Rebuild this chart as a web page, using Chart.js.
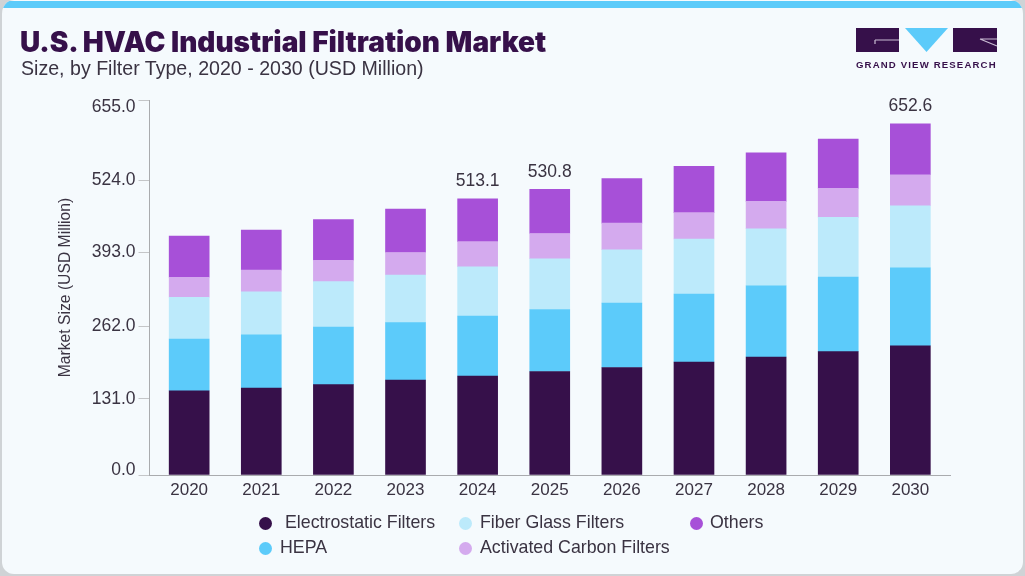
<!DOCTYPE html>
<html>
<head>
<meta charset="utf-8">
<title>U.S. HVAC Industrial Filtration Market</title>
<script src="https://cdn.jsdelivr.net/npm/chart.js@4"></script>
<style>
  html, body { margin: 0; padding: 0; background: #cfd3d6; }
  #card {
    position: relative; width: 1025px; height: 576px; box-sizing: border-box; overflow: hidden;
    background: #f5fafd; border: 2px solid #cfd3d6; border-top: 0; border-radius: 14px;
    font-family: "Liberation Sans", sans-serif; color: #3a3342;
  }
  #topband { position: absolute; left: -2px; right: -2px; top: 1px; height: 7px; background: #5ccbfa; }
  #title { position: absolute; left: 18px; top: 25px; font: 900 28px Inter, sans-serif; color: #36104a; white-space: nowrap; }
  #subtitle { position: absolute; left: 19px; top: 57px; font-size: 19.6px; white-space: nowrap; }
  #logo { position: absolute; left: 854px; top: 26px; }
  #chart { position: absolute; left: -2px; top: 0; }
  .legend-item { position: absolute; font-size: 17.8px; line-height: 20px; white-space: nowrap; }
  .legend-dot { position: absolute; width: 13px; height: 13px; border-radius: 50%; }
</style>
</head>
<body>
<div id="card">
  <div id="topband"></div>
  <canvas id="chart" width="1025" height="576"></canvas>
  <div id="title">U.S. HVAC Industrial Filtration Market</div>
  <div id="subtitle">Size, by Filter Type, 2020 - 2030 (USD Million)</div>
  <svg id="logo" width="146" height="46" viewBox="0 0 146 46">
    <rect x="0" y="2" width="43" height="24" fill="#36104a"/>
    <path d="M19 14 H43 M19 14 V18" stroke="#c9bcd3" stroke-width="1.2" fill="none"/>
    <polygon points="49,2 92,2 70.5,26" fill="#5ccbfa"/>
    <rect x="97" y="2" width="44" height="24" fill="#36104a"/>
    <path d="M124 13 L141 20 M124 13 H141" stroke="#c9bcd3" stroke-width="1.2" fill="none"/>
    <text x="0" y="42" font-family="Liberation Sans" font-weight="700" font-size="9.6" letter-spacing="1.15" fill="#36104a">GRAND VIEW RESEARCH</text>
  </svg>
</div>
<script>
// データ
const years = [2020, 2021, 2022, 2023, 2024, 2025, 2026, 2027, 2028, 2029, 2030];
const electrostatic = [156.6, 161.6, 167.8, 176.5, 183.9, 192.3, 199.7, 210.0, 219.2, 229.1, 240.2];
const hepa = [96.1, 99.0, 107.2, 106.5, 111.5, 115.2, 119.8, 126.3, 132.5, 138.8, 144.9];
const fiberGlass = [77.5, 79.9, 84.2, 88.6, 91.6, 94.4, 99.0, 102.2, 105.9, 110.9, 115.2];
const activatedCarbon = [37.2, 40.3, 39.8, 41.8, 46.5, 46.8, 49.6, 48.9, 50.9, 53.9, 57.6];
const others = [76.7, 74.3, 75.4, 80.8, 79.6, 82.1, 82.7, 86.2, 90.3, 91.6, 94.7];
const totalLabels = [null, null, null, null, '513.1', '530.8', null, null, null, null, '652.6'];

// 元の図の目盛りはバーの実スケールと一致していないので、位置とラベルを別々に持つ
const yTickLabels = ['0.0', '131.0', '262.0', '393.0', '524.0', '655.0'];
const yTickPositions = [0, 141.8, 276.8, 413.2, 548.1, 696.8];

const seriesNames = ['Electrostatic Filters', 'HEPA', 'Fiber Glass Filters', 'Activated Carbon Filters', 'Others'];
const seriesValues = [electrostatic, hepa, fiberGlass, activatedCarbon, others];
const seriesColors = ['#36104a', '#5ccbfa', '#bceafb', '#d4aaee', '#a750d8'];

const textColor = '#3a3342';
const axisColor = '#a9abae';
const baseFont = '"Liberation Sans", sans-serif';

// --- 合計ラベルをバーの上に描くプラグイン ---
const totalLabelPlugin = {
    id: 'totalLabels',
    afterDatasetsDraw(chart) {
        const ctx = chart.ctx;
        const top = chart.getDatasetMeta(seriesNames.length - 1).data;
        ctx.save();
        ctx.font = '17.5px ' + baseFont;
        ctx.fillStyle = textColor;
        ctx.textAlign = 'center';
        ctx.textBaseline = 'middle';
        totalLabels.forEach((label, i) => {
            if (label) ctx.fillText(label, top[i].x, top[i].y - 17.5);
        });
        ctx.restore();
    }
};

new Chart(document.getElementById('chart').getContext('2d'), {
    type: 'bar',
    data: {
        labels: years,
        datasets: seriesNames.map((name, i) => ({
            label: name,
            data: seriesValues[i],
            backgroundColor: seriesColors[i],
            barThickness: 40,
            borderWidth: 0
        }))
    },
    options: {
        responsive: false,
        animation: false,
        layout: { padding: { left: 56, right: 75, top: 100, bottom: 61 } },
        plugins: { legend: { display: false }, tooltip: { enabled: false } },
        scales: {
            x: {
                type: 'linear',
                offset: false,
                stacked: true,
                min: 2019.45,
                max: 2030.55,
                afterBuildTicks: scale => { scale.ticks = years.map(v => ({ value: v })); },
                afterFit: scale => { scale.height = 40; },
                grid: { display: false, drawTicks: false },
                border: { color: axisColor },
                ticks: {
                    autoSkip: false, maxRotation: 0, padding: 5,
                    color: textColor, font: { size: 17, family: baseFont },
                    callback: v => String(v)
                }
            },
            y: {
                stacked: true,
                min: 0,
                max: 696.8,
                afterBuildTicks: scale => { scale.ticks = yTickPositions.map(v => ({ value: v })); },
                afterFit: scale => { scale.width = 93.5; },
                grid: { drawOnChartArea: false, color: '#c4c6c8', tickLength: 11, tickWidth: 1 },
                border: { color: axisColor },
                ticks: {
                    autoSkip: false, padding: 3,
                    color: textColor,
                    // 上端と下端のラベルは目盛りから少しずれている（行の高さでずらす）
                    font: ctx => ({
                        size: 17.5, family: baseFont,
                        lineHeight: ctx.index === 0 ? '9px' : ctx.index === yTickLabels.length - 1 ? '14px' : 1.2
                    }),
                    callback: (v, i) => {
                        if (i === yTickLabels.length - 1) return ['', yTickLabels[i]];
                        if (i === 0) return [yTickLabels[i], ''];
                        return yTickLabels[i];
                    }
                },
                title: {
                    display: true, text: 'Market Size (USD Million)', color: textColor,
                    font: { size: 15.7, family: baseFont }, padding: 0
                }
            }
        }
    },
    plugins: [totalLabelPlugin]
});

// --- 凡例をHTMLで作る（元の図の2段組みに合わせる） ---
const card = document.getElementById('card');
const legendLayout = [
    { dot: 259, text: 285, y: 523 },
    { dot: 259, text: 280, y: 548 },
    { dot: 459, text: 480, y: 523 },
    { dot: 459, text: 480, y: 548 },
    { dot: 690, text: 710, y: 523 }
];
seriesNames.forEach((name, i) => {
    const pos = legendLayout[i];
    const dot = document.createElement('div');
    dot.className = 'legend-dot';
    dot.style.cssText = `left:${pos.dot - 2}px;top:${pos.y - 6}px;background:${seriesColors[i]}`;
    card.appendChild(dot);
    const item = document.createElement('div');
    item.className = 'legend-item';
    item.style.cssText = `left:${pos.text - 2}px;top:${pos.y - 11}px`;
    item.textContent = name;
    card.appendChild(item);
});
</script>
</body>
</html>
